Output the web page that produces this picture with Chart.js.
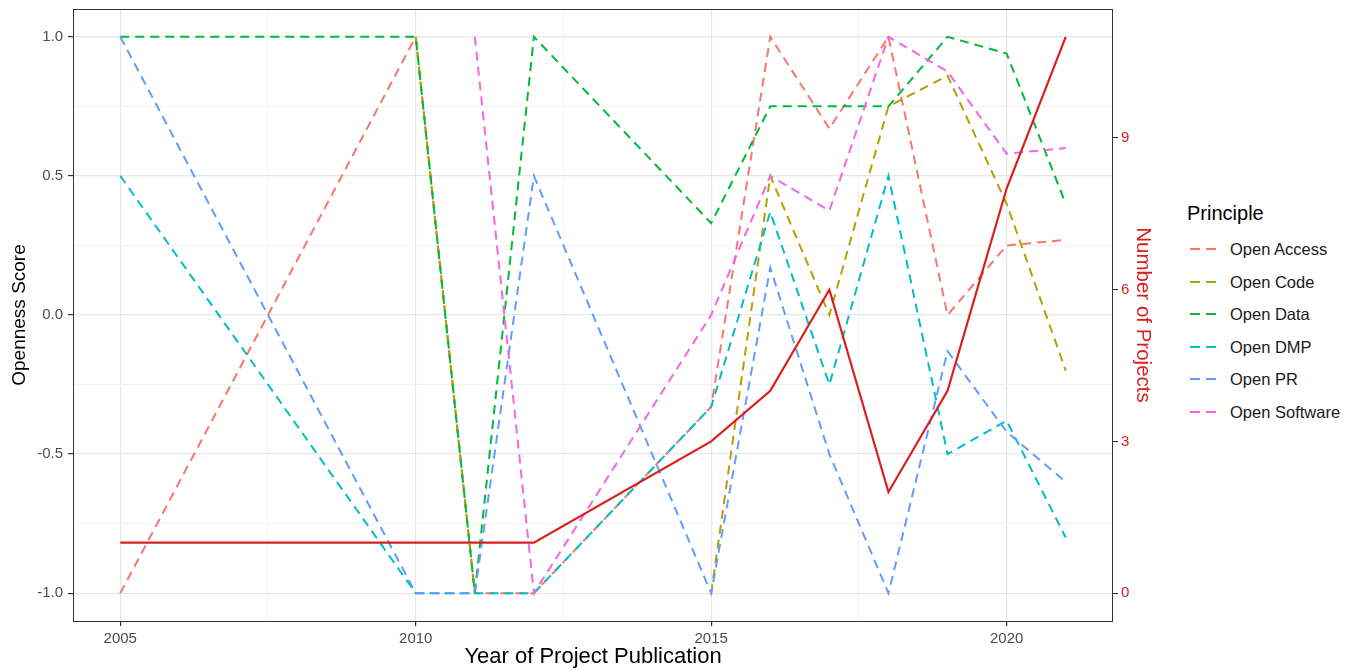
<!DOCTYPE html>
<html>
<head>
<meta charset="utf-8">
<script src="https://cdn.jsdelivr.net/npm/chart.js@4.4.1/dist/chart.umd.min.js"></script>
<style>
  html, body { margin:0; padding:0; background:#fff; }
  body { width:1353px; height:670px; position:relative; overflow:hidden; font-family:"Liberation Sans", Arial, sans-serif; }
  #chart { position:absolute; left:0; top:-5px; }
  .legend { position:absolute; left:1187px; top:200px; }
  .legend-title { position:absolute; left:0; top:0; font-size:20px; line-height:26px; color:#000; white-space:nowrap; }
  .legend-item { position:absolute; left:3px; height:24px; white-space:nowrap; }
  .legend-item svg { position:absolute; left:0; top:10px; }
  .legend-item span { position:absolute; left:40px; top:0; font-size:16.5px; line-height:24px; color:#1a1a1a; }
</style>
</head>
<body>
<canvas id="chart" width="1165" height="675"></canvas>
<div class="legend" id="legend"></div>
<script>
/* ── Datos ── */
const YEARS         = [2005, 2010, 2011, 2012, 2015, 2016, 2017, 2018, 2019, 2020, 2021];
const OPEN_ACCESS   = [-1,    1,   -1,   -1,  -0.33, 1,    0.67, 1,    0,    0.25, 0.27];
const OPEN_CODE     = [null,  1,   -1,   null, -1,   0.5,  0,    0.75, 0.86, 0.4, -0.2];
const OPEN_DATA     = [1,     1,   -1,    1,   0.33, 0.75, 0.75, 0.75, 1,    0.94, 0.4];
const OPEN_DMP      = [0.5,  -1,   -1,   -1,  -0.33, 0.37, -0.25, 0.5, -0.5, -0.38, -0.8];
const OPEN_PR       = [1,    -1,   -1,    0.5, -1,   0.17, -0.5, -1,  -0.13, -0.42, -0.6];
const OPEN_SOFTWARE = [null, null,  1,   -1,   0,    0.5,  0.375, 1,   0.875, 0.58, 0.6];
const N_PROJECTS    = [1,     1,    1,    1,   3,    4,    6,    2,    4,    8,    11];

const PRINCIPLES = ['Open Access','Open Code','Open Data','Open DMP','Open PR','Open Software'];
const SERIES     = [OPEN_ACCESS, OPEN_CODE, OPEN_DATA, OPEN_DMP, OPEN_PR, OPEN_SOFTWARE];
const COLORS     = ['#F8766D','#B79F00','#00BA38','#00BFC4','#619CFF','#F564E3'];
const RED        = '#DA1F1F';

const X_TICKS  = [2005, 2007.5, 2010, 2012.5, 2015, 2017.5, 2020];
const Y_TICKS  = [-1, -0.75, -0.5, -0.25, 0, 0.25, 0.5, 0.75, 1];
const Y1_TICKS = [0, 3, 6, 9];

const FONT = '"Liberation Sans", Arial, sans-serif';
const GRID_MAJ = '#E6E6E6', GRID_MIN = '#F2F2F2', TICK_C = '#333333', TXT = '#4D4D4D';
const isMajorX = v => v % 5 === 0;
const isMajorY = v => Math.abs(v * 2 - Math.round(v * 2)) < 1e-9;

const pts = arr => YEARS.map((x,i) => ({ x, y: arr[i] }));

/* ── Datasets ── */
const datasets = SERIES.map((arr,i) => ({
  label: PRINCIPLES[i], data: pts(arr), yAxisID:'y',
  borderColor: COLORS[i], backgroundColor: COLORS[i],
  borderWidth: 2, borderDash:[9,6], pointRadius:0, fill:false, tension:0,
  order: 6 - i
}));
datasets.push({
  label:'Number of Projects', data: pts(N_PROJECTS), yAxisID:'y1',
  borderColor: RED, backgroundColor: RED, borderWidth: 2.2,
  pointRadius:0, fill:false, tension:0, order:0
});

/* ── Marco del panel ── */
const framePlugin = {
  id:'frame',
  afterDraw(chart) {
    const {ctx, chartArea:a} = chart;
    ctx.save();
    ctx.strokeStyle = TICK_C; ctx.lineWidth = 1;
    ctx.strokeRect(Math.round(a.left)+0.5, Math.round(a.top)+0.5, Math.round(a.right-a.left)-1, Math.round(a.bottom-a.top));
    ctx.restore();
  }
};

new Chart(document.getElementById('chart'), {
  type:'line',
  data:{ datasets },
  plugins:[framePlugin],
  options:{
    responsive:false, animation:false, devicePixelRatio:1,
    layout:{ padding:{ top:5, left:0, right:0, bottom:0 } },
    plugins:{ legend:{ display:false }, tooltip:{ enabled:false } },
    scales:{
      x:{
        type:'linear', min:2004.2, max:2021.8,
        afterBuildTicks: s => { s.ticks = X_TICKS.map(v => ({ value:v })); },
        afterFit: s => { s.height = 49; },
        border:{ display:false },
        grid:{
          color: c => isMajorX(c.tick.value) ? GRID_MAJ : GRID_MIN,
          lineWidth: c => isMajorX(c.tick.value) ? 1.2 : 1,
          tickColor: c => isMajorX(c.tick.value) ? TICK_C : 'rgba(0,0,0,0)',
          tickLength:5, drawTicks:true
        },
        ticks:{ color:TXT, font:{ family:FONT, size:15 }, padding:4, maxRotation:0, autoSkip:false,
          callback: v => isMajorX(v) ? String(v) : '' },
        title:{ display:true, text:'Year of Project Publication', color:'#000',
          font:{ family:FONT, size:22 }, padding:{ top:0, bottom:0 } }
      },
      y:{
        type:'linear', position:'left', min:-1.1, max:1.1,
        afterBuildTicks: s => { s.ticks = Y_TICKS.map(v => ({ value:v })); },
        afterFit: s => { s.width = 73; },
        border:{ display:false },
        grid:{
          color: c => isMajorY(c.tick.value) ? GRID_MAJ : GRID_MIN,
          lineWidth: c => isMajorY(c.tick.value) ? 1.2 : 1,
          tickColor: c => isMajorY(c.tick.value) ? TICK_C : 'rgba(0,0,0,0)',
          tickLength:5, drawTicks:true
        },
        ticks:{ color:TXT, font:{ family:FONT, size:15 }, padding:5, autoSkip:false,
          callback: v => isMajorY(v) ? v.toFixed(1) : '' },
        title:{ display:true, text:'Openness Score', color:'#000',
          font:{ family:FONT, size:19 }, padding:{ top:8, bottom:0 } }
      },
      y1:{
        type:'linear', position:'right', min:-0.55, max:11.55,
        afterBuildTicks: s => { s.ticks = Y1_TICKS.map(v => ({ value:v })); },
        afterFit: s => { s.width = 52; },
        border:{ display:false },
        grid:{ drawOnChartArea:false, drawTicks:true, tickLength:5, tickColor:TICK_C, color:TICK_C },
        ticks:{ color:RED, font:{ family:FONT, size:15 }, padding:3, autoSkip:false },
        title:{ display:true, text:'Number of Projects', color:RED,
          font:{ family:FONT, size:20.5 }, padding:{ top:10, bottom:0 } }
      }
    }
  }
});

/* ── Leyenda ── */
const lg = document.getElementById('legend');
lg.innerHTML = `<div class="legend-title">Principle</div>` +
  PRINCIPLES.map((p,i) => `
  <div class="legend-item" style="top:${37 + i*32.5}px">
    <svg width="30" height="4"><line x1="0" y1="2" x2="27" y2="2" stroke="${COLORS[i]}" stroke-width="2" stroke-dasharray="10 6"/></svg>
    <span>${p}</span>
  </div>`).join('');
</script>
</body>
</html>
